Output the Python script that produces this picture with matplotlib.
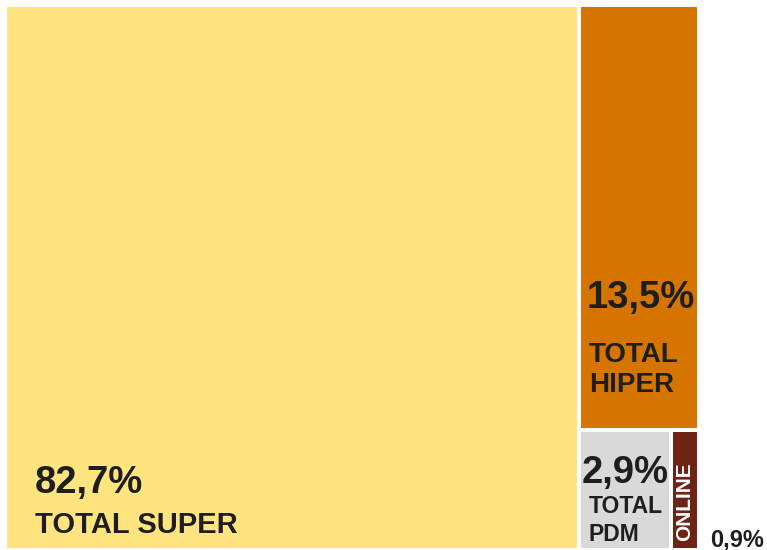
import matplotlib.pyplot as plt
from matplotlib import font_manager
from matplotlib.patches import Rectangle

# Participação por canal (%)
canais = ["TOTAL SUPER", "TOTAL HIPER", "TOTAL PDM", "ONLINE"]
valores = [82.7, 13.5, 2.9, 0.9]
cores = ["#FFE480", "#D57500", "#D9D9D9", "#6E2414"]

# Liberation Sans Bold (evita a variante Narrow)
arquivo = None
for f in font_manager.fontManager.ttflist:
    if f.name == "Liberation Sans" and "Narrow" not in f.fname and f.weight == 700 and f.style == "normal":
        arquivo = f.fname
TXT = "#1E1E1E"
PX = 0.72  # pontos por pixel em dpi=100


def fmt(v):
    return f"{v:.1f}%".replace(".", ",")


# layout do treemap: super ocupa a coluna inteira, o resto divide a coluna da direita
total = sum(valores)
w_super = valores[0] / total
resto = sum(valores[1:])
h_hiper = valores[1] / resto
h_base = 1 - h_hiper
w_pdm = (1 - w_super) * valores[2] / (valores[2] + valores[3])
rects = [
    (0, 0, w_super, 1),
    (w_super, h_base, 1 - w_super, h_hiper),
    (w_super, 0, w_pdm, h_base),
    (w_super + w_pdm, 0, 1 - w_super - w_pdm, h_base),
]

fig = plt.figure(figsize=(7.67, 5.5), dpi=100)
ax = fig.add_axes([5 / 767, 0, 694 / 767, 545 / 550])
ax.set_xlim(0, 1)
ax.set_ylim(0, 1)
ax.axis("off")

for (x, y, w, h), c in zip(rects, cores):
    ax.add_patch(Rectangle((x, y), w, h, facecolor=c, edgecolor="white",
                           linewidth=4 * PX))


def rotulo(xy, dx, dy, s, size, **kw):
    fp = font_manager.FontProperties(fname=arquivo, size=size) if arquivo else \
        font_manager.FontProperties(family="DejaVu Sans", weight="bold", size=size)
    ax.annotate(s, xy=xy, xytext=(dx * PX, dy * PX), textcoords="offset points",
                ha=kw.pop("ha", "left"), va=kw.pop("va", "baseline"),
                fontproperties=fp, color=kw.pop("color", TXT),
                annotation_clip=False, **kw)


# TOTAL SUPER
x, y, w, h = rects[0]
rotulo((x, y), 30, 57, fmt(valores[0]), 27.5)
rotulo((x, y), 30, 17, canais[0], 21)

# TOTAL HIPER
x, y, w, h = rects[1]
rotulo((x, y), 8, 122, fmt(valores[1]), 27.5)
rotulo((x, y), 10, 68, "TOTAL", 20)
rotulo((x, y), 10, 38, "HIPER", 20)

# TOTAL PDM
x, y, w, h = rects[2]
rotulo((x, y), 3, 67, fmt(valores[2]), 27.5)
rotulo((x, y), 10, 37, "TOTAL", 16.5)
rotulo((x, y), 10, 9, "PDM", 16.5)

# ONLINE
x, y, w, h = rects[3]
rotulo((x + w / 2, y), 0, 9, canais[3], 15, rotation=90, ha="center",
       va="bottom", color="white")
rotulo((x + w, y), 11, 4, fmt(valores[3]), 17)

fig.savefig("out.png", dpi=100)
